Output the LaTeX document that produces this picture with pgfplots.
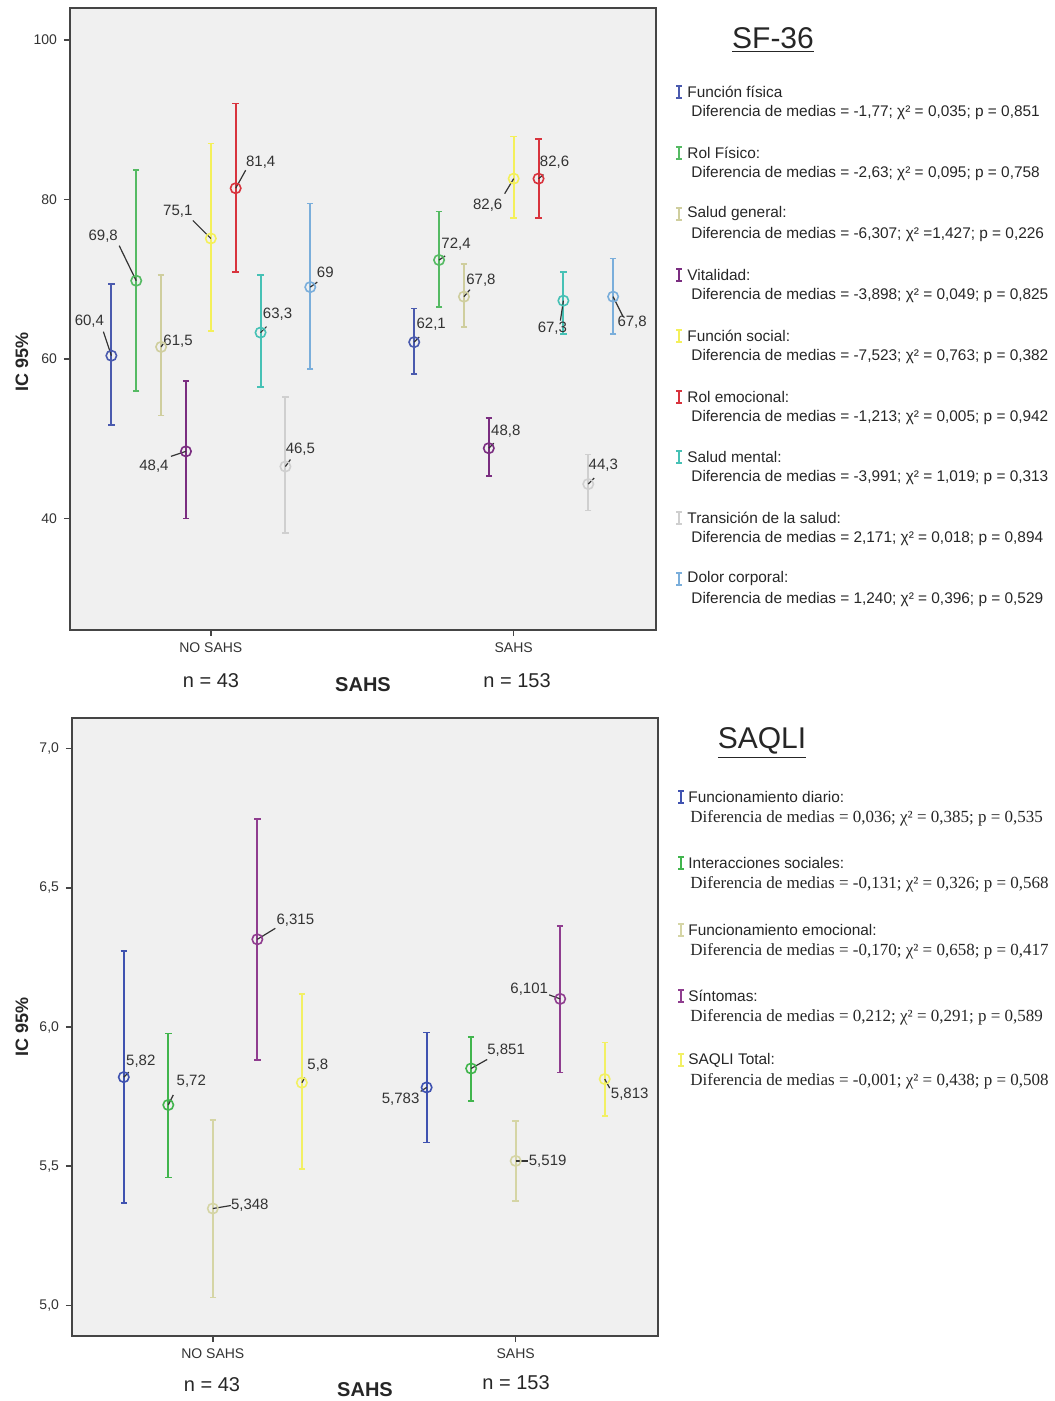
\documentclass[border=0pt]{standalone}
\usepackage{pgfplots}
\pgfplotsset{compat=1.18}
\usepackage{fontspec}
\setmainfont{Liberation Sans}
\newfontfamily\legserif{Liberation Serif}

% SF-36 colours
\definecolor{cblue}{HTML}{4A5AAE}
\definecolor{cgreen}{HTML}{55BA63}
\definecolor{cbeige}{HTML}{CFCE9E}
\definecolor{cpurple}{HTML}{7A2D80}
\definecolor{cyellow}{HTML}{F4F05A}
\definecolor{cred}{HTML}{D8333D}
\definecolor{ccyan}{HTML}{46C1B5}
\definecolor{cgrey}{HTML}{CFCFCF}
\definecolor{clblue}{HTML}{7AAEDB}
% SAQLI colours
\definecolor{bblue}{HTML}{3F52B0}
\definecolor{bgreen}{HTML}{41B54D}
\definecolor{bbeige}{HTML}{D5D5A5}
\definecolor{bpurple}{HTML}{8F3D8F}
\definecolor{byellow}{HTML}{F2F064}
\definecolor{bgc}{HTML}{F0F0F0}
\definecolor{axc}{HTML}{454545}

\pgfkeys{/pgfplots/table/ci/.style={x=x, y=y,
    y error plus expr=\thisrow{hi}-\thisrow{y},
    y error minus expr=\thisrow{y}-\thisrow{lo}}}
\pgfplotsset{
  ebar/.style={only marks, color=#1, mark=o, mark size=2.6pt,
    mark options={line width=0.8pt, fill=none},
    error bars/.cd, y dir=both, y explicit, error mark=|,
    error bar style={line width=1pt, #1},
    error mark options={mark size=1.6pt, line width=0.8pt, #1}},
  spss/.style={scale only axis, clip=false,
    xmin=-0.465, xmax=1.47,
    xtick={0,1}, xticklabels={NO SAHS,SAHS},
    xtick pos=bottom, ytick pos=left,
    tick align=outside, major tick length=3pt,
    tick style={line width=0.8pt, color=axc},
    axis line style={line width=1pt, color=axc},
    axis background/.style={fill=bgc},
    tick label style={font=\fontsize{7}{8}\selectfont, text=black!80},
    /pgf/number format/assume math mode=true},
}
\tikzset{
  leader/.style={line width=0.6pt, black!80},
  lbl/.style={font=\fontsize{7.5}{8}\selectfont, text=black!80, inner sep=0pt},
  legname/.style={anchor=west, inner sep=0pt, font=\fontsize{7.7}{9}\selectfont, text=black!85},
}
% value label with leader line: x, y, leader end dx, dy, text dx, dy, text
\newcommand{\lab}[7]{\draw[leader] (axis cs:#1,#2) -- ++(#3pt,#4pt);
  \path (axis cs:#1,#2) ++(#5pt,#6pt) node[lbl] {#7};}
% small error-bar glyph for the legend
\newcommand{\Ibar}[3]{\draw[#1, line width=0.9pt] (#2pt,#3pt-3pt) -- (#2pt,#3pt+3pt)
  (#2pt-1.3pt,#3pt-3pt) -- (#2pt+1.3pt,#3pt-3pt) (#2pt-1.3pt,#3pt+3pt) -- (#2pt+1.3pt,#3pt+3pt);}

\begin{document}
\begin{tikzpicture}
\useasboundingbox (0,0) rectangle (527pt,-700.5pt);

% ---------------- SF-36 ----------------
\begin{axis}[spss, width=293pt, height=311pt, at={(35pt,-315pt)}, anchor=south west,
  ymin=26, ymax=104, ytick={40,60,80,100}]
\addplot[ebar=cblue] table[ci] {
x y lo hi
-0.3284 60.4 51.7 69.4
0.6716 62.1 58.1 66.3
};
\addplot[ebar=cgreen] table[ci] {
x y lo hi
-0.2463 69.8 56.0 83.7
0.7537 72.4 66.5 78.5
};
\addplot[ebar=cbeige] table[ci] {
x y lo hi
-0.1642 61.5 52.9 70.5
0.8358 67.8 64.0 71.9
};
\addplot[ebar=cpurple] table[ci] {
x y lo hi
-0.0821 48.4 40.0 57.2
0.9179 48.8 45.3 52.6
};
\addplot[ebar=cyellow] table[ci] {
x y lo hi
0 75.1 63.5 87.0
1 82.6 77.7 87.9
};
\addplot[ebar=cred] table[ci] {
x y lo hi
0.0821 81.4 70.9 92.0
1.0821 82.6 77.7 87.6
};
\addplot[ebar=ccyan] table[ci] {
x y lo hi
0.1642 63.3 56.5 70.5
1.1642 67.3 63.1 70.9
};
\addplot[ebar=cgrey] table[ci] {
x y lo hi
0.2463 46.5 38.2 55.2
1.2463 44.3 41.0 48.0
};
\addplot[ebar=clblue] table[ci] {
x y lo hi
0.3284 69.0 58.7 79.5
1.3284 67.8 63.1 72.6
};
\lab{-0.3284}{60.4}{-4}{12}{-11}{17}{60,4}
\lab{-0.2463}{69.8}{-8.5}{17.5}{-16.5}{22.5}{69,8}
\lab{-0.1642}{61.5}{1}{1.5}{8.5}{3}{61,5}
\lab{-0.0821}{48.4}{-7.5}{-2.5}{-16}{-7.5}{48,4}
\lab{0}{75.1}{-9}{9}{-16.5}{13.5}{75,1}
\lab{0.0821}{81.4}{5}{9}{12.5}{13}{81,4}
\lab{0.1642}{63.3}{3}{3}{8.5}{9}{63,3}
\lab{0.2463}{46.5}{2.5}{3.5}{7.5}{8.5}{46,5}
\lab{0.3284}{69.0}{3.5}{2.5}{7.5}{7.5}{69}
\lab{0.6716}{62.1}{2.5}{2.5}{8.5}{9}{62,1}
\lab{0.7537}{72.4}{3}{2}{8.5}{8}{72,4}
\lab{0.8358}{67.8}{3}{3.5}{8.5}{8}{67,8}
\lab{0.9179}{48.8}{2.5}{2.5}{8.5}{8.5}{48,8}
\lab{1}{82.6}{-4.5}{-7.5}{-13}{-13.5}{82,6}
\lab{1.0821}{82.6}{2.5}{2}{8}{8}{82,6}
\lab{1.1642}{67.3}{-1.5}{-10}{-5.5}{-14}{67,3}
\lab{1.2463}{44.3}{3}{3}{7.5}{9.5}{44,3}
\lab{1.3284}{67.8}{5}{-10}{9.5}{-13}{67,8}
\end{axis}

% ---------------- SAQLI ----------------
\begin{axis}[spss, width=293pt, height=309pt, at={(36pt,-668pt)}, anchor=south west,
  ymin=4.89, ymax=7.11, ytick={5,5.5,6,6.5,7},
  yticklabel style={/pgf/number format/.cd, fixed, fixed zerofill, precision=1, use comma}]
\addplot[ebar=bblue] table[ci] {
x y lo hi
-0.294 5.82 5.367 6.272
0.706 5.783 5.585 5.981
};
\addplot[ebar=bgreen] table[ci] {
x y lo hi
-0.147 5.72 5.46 5.977
0.853 5.851 5.735 5.965
};
\addplot[ebar=bbeige] table[ci] {
x y lo hi
0 5.348 5.029 5.665
1 5.519 5.374 5.663
};
\addplot[ebar=bpurple] table[ci] {
x y lo hi
0.147 6.315 5.881 6.748
1.147 6.101 5.837 6.362
};
\addplot[ebar=byellow] table[ci] {
x y lo hi
0.294 5.8 5.489 6.119
1.294 5.813 5.681 5.945
};
\lab{-0.294}{5.82}{2.5}{2.5}{8.5}{8}{5,82}
\lab{-0.147}{5.72}{2.5}{5}{11.5}{12}{5,72}
\lab{0}{5.348}{9}{1.5}{18.5}{1.5}{5,348}
\lab{0.147}{6.315}{9}{5.5}{19}{9.5}{6,315}
\lab{0.294}{5.8}{1.5}{2.5}{8}{8.5}{5,8}
\lab{0.706}{5.783}{-3}{-2}{-13}{-6}{5,783}
\lab{0.853}{5.851}{8}{4.5}{17.5}{9}{5,851}
\lab{1}{5.519}{6}{0}{16}{0}{5,519}
\lab{1.147}{6.101}{-5.5}{2}{-15.5}{5}{6,101}
\lab{1.294}{5.813}{2.5}{-4.5}{12.5}{-7.5}{5,813}
\end{axis}

% axis titles and group sizes
\begin{scope}[every node/.style={text=black!85}]
\node[rotate=90, font=\fontsize{9}{10}\selectfont\bfseries] at (11pt,-181pt) {IC 95\%};
\node[rotate=90, font=\fontsize{9}{10}\selectfont\bfseries] at (11pt,-513.5pt) {IC 95\%};
\node[font=\fontsize{10}{12}\selectfont] at (105.5pt,-340.5pt) {n = 43};
\node[font=\fontsize{10}{12}\selectfont\bfseries] at (181.5pt,-342.5pt) {SAHS};
\node[font=\fontsize{10}{12}\selectfont] at (258.5pt,-340.5pt) {n = 153};
\node[font=\fontsize{10}{12}\selectfont] at (106pt,-692.5pt) {n = 43};
\node[font=\fontsize{10}{12}\selectfont\bfseries] at (182.5pt,-695pt) {SAHS};
\node[font=\fontsize{10}{12}\selectfont] at (258pt,-691.5pt) {n = 153};
\end{scope}

% SF-36 legend
\node[font=\fontsize{15}{16}\selectfont, text=black!85] at (386.5pt,-20pt) {\underline{SF-36}};
\foreach \c/\y/\name/\stat in {
  cblue/-46/{Función física}/{-1,77; χ² = 0,035; p = 0,851},
  cgreen/-76.5/{Rol Físico:}/{-2,63; χ² = 0,095; p = 0,758},
  cbeige/-107/{Salud general:}/{-6,307; χ² =1,427; p = 0,226},
  cpurple/-137.5/{Vitalidad:}/{-3,898; χ² = 0,049; p = 0,825},
  cyellow/-168/{Función social:}/{-7,523; χ² = 0,763; p = 0,382},
  cred/-198.5/{Rol emocional:}/{-1,213; χ² = 0,005; p = 0,942},
  ccyan/-228.5/{Salud mental:}/{-3,991; χ² = 1,019; p = 0,313},
  cgrey/-259/{Transición de la salud:}/{2,171; χ² = 0,018; p = 0,894},
  clblue/-289.5/{Dolor corporal:}/{1,240; χ² = 0,396; p = 0,529}} {
  \Ibar{\c}{339.5}{\y}
  \node[legname] at (343.5pt,\y pt) {\name};
  \node[legname] at (345.5pt,\y pt-10.5pt) {Diferencia de medias = \stat};
}

% SAQLI legend
\node[font=\fontsize{15}{16}\selectfont, text=black!85] at (381pt,-371.5pt) {\underline{SAQLI}};
\foreach \c/\y/\name/\stat in {
  bblue/-398.5/{Funcionamiento diario:}/{0,036; χ² = 0,385; p = 0,535},
  bgreen/-431.5/{Interacciones sociales:}/{-0,131; χ² = 0,326; p = 0,568},
  bbeige/-465/{Funcionamiento emocional:}/{-0,170; χ² = 0,658; p = 0,417},
  bpurple/-498/{Síntomas:}/{0,212; χ² = 0,291; p = 0,589},
  byellow/-530/{SAQLI Total:}/{-0,001; χ² = 0,438; p = 0,508}} {
  \Ibar{\c}{340.5}{\y}
  \node[legname] at (344pt,\y pt) {\name};
  \node[legname, font=\fontsize{8.5}{9}\legserif] at (345pt,\y pt-10.5pt) {Diferencia de medias = \stat};
}
\end{tikzpicture}
\end{document}
